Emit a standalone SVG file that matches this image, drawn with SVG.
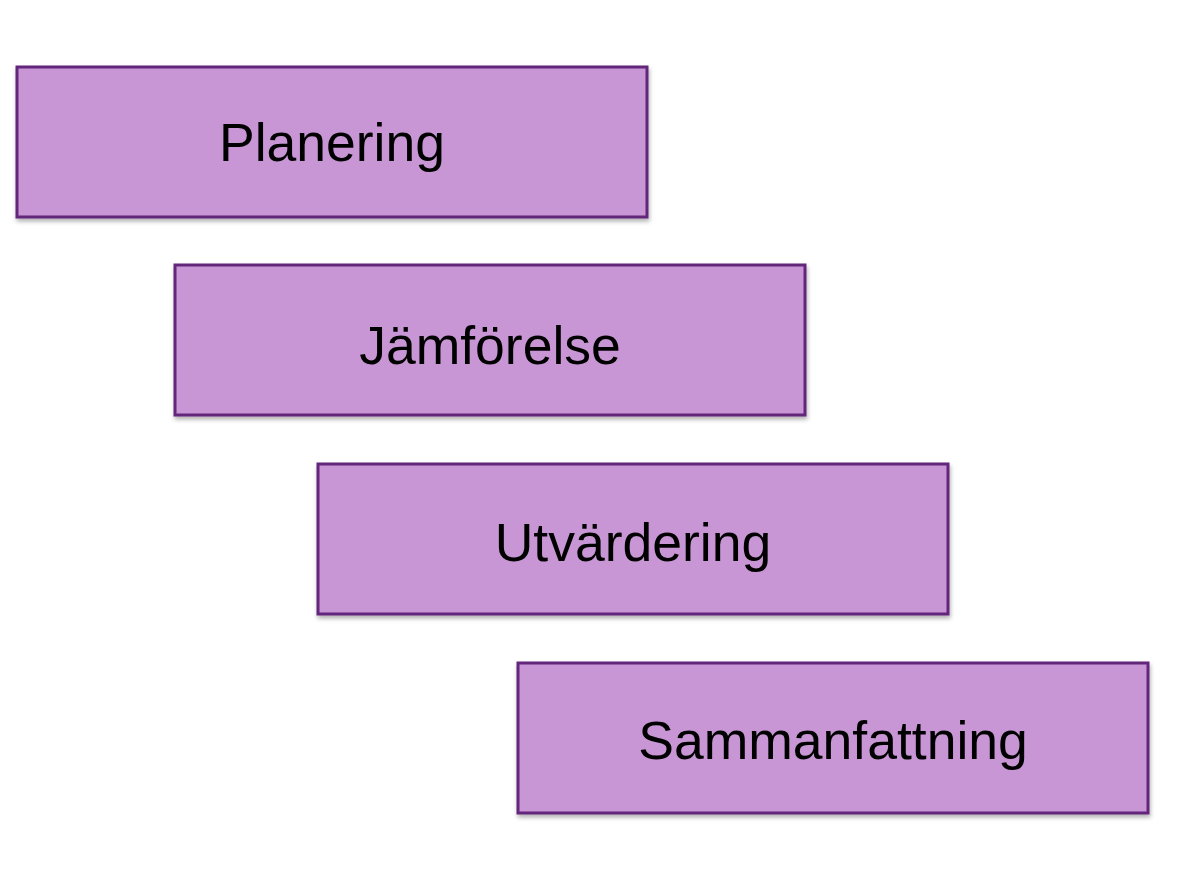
<svg xmlns="http://www.w3.org/2000/svg" width="1193" height="896" viewBox="0 0 1193 896">
<defs>
<filter id="sh" x="-5%" y="-10%" width="110%" height="125%">
<feDropShadow dx="1" dy="3" stdDeviation="2" flood-color="#000" flood-opacity="0.3"/>
</filter>
</defs>
<style>
.box{fill:#C896D4;stroke:#62257A;stroke-width:3;filter:url(#sh)}
.lbl{font-family:"Liberation Sans",Arial,sans-serif;font-size:53.5px;fill:#000;text-anchor:middle}
</style>
<rect width="1193" height="896" fill="#fff"/>
<g id="connectors"></g>
<g id="planering"><rect class="box" x="17" y="67" width="630" height="150"/><text class="lbl" x="332" y="161">Planering</text></g>
<g id="jamforelse"><rect class="box" x="175" y="265" width="630" height="150"/><text class="lbl" x="490" y="364">Jämförelse</text></g>
<g id="utvardering"><rect class="box" x="318" y="464" width="630" height="150"/><text class="lbl" x="633" y="561">Utvärdering</text></g>
<g id="sammanfattning"><rect class="box" x="518" y="663" width="630" height="150"/><text class="lbl" x="833" y="759">Sammanfattning</text></g>
</svg>
